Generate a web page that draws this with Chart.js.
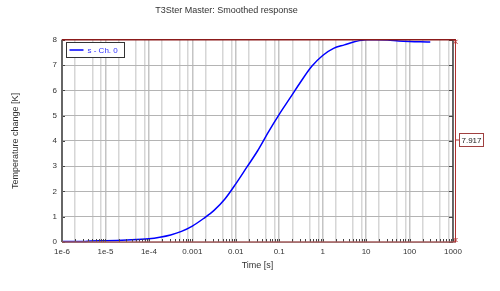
<!DOCTYPE html>
<html><head><meta charset="utf-8">
<script src="https://cdn.jsdelivr.net/npm/chart.js@4/dist/chart.umd.min.js"></script>
<style>html,body{margin:0;padding:0;background:#fff}#w{width:500px;height:291px}</style>
</head><body><div id="w"><canvas id="c"></canvas></div>
<script>
const TIMES = [1e-6, 3.16e-6, 4.5e-6, 1e-5, 3.16e-5, 1e-4, 1.78e-4, 3.16e-4, 5.62e-4, 1e-3, 1.78e-3, 3.16e-3, 5.62e-3, 1e-2, 1.78e-2, 3.16e-2, 5.62e-2, 0.1, 0.178, 0.316, 0.562, 1, 1.78, 3.16, 5.62, 10, 17.8, 31.6, 56.2, 100, 178, 300];
const TEMPS = [0.02, 0.02, 0.04, 0.05, 0.08, 0.13, 0.19, 0.28, 0.42, 0.63, 0.92, 1.25, 1.7, 2.3, 2.95, 3.6, 4.35, 5.05, 5.7, 6.35, 6.95, 7.38, 7.66, 7.8, 7.93, 8.0, 8.0, 7.99, 7.95, 7.93, 7.92, 7.917];
const X_DECADES = [1e-6, 1e-5, 1e-4, 1e-3, 1e-2, 1e-1, 1, 10, 100, 1000];
const X_LABELS = ["1e-6", "1e-5", "1e-4", "0.001", "0.01", "0.1", "1", "10", "100", "1000"];
const X_GRID_MULTIPLIERS = [1, 2, 5, 8];
const Y_TICKS = [0, 1, 2, 3, 4, 5, 6, 7, 8];
const SERIES_LABEL = "s - Ch. 0";
const CURSOR_VALUE = "7.917";

const FONT = "Arial, 'Liberation Sans', sans-serif";

function mantissa(v) {
  const k = Math.floor(Math.log10(v) + 1e-9);
  return Math.round(v / Math.pow(10, k));
}

const decor = {
  id: 'decor',
  afterDatasetsDraw(chart) {
    const ctx = chart.ctx, a = chart.chartArea, x = chart.scales.x, y = chart.scales.y;
    ctx.save();
    ctx.strokeStyle = '#444'; ctx.lineWidth = 1;
    x.ticks.forEach(t => {
      const px = Math.round(x.getPixelForValue(t.value)) + 0.5;
      ctx.beginPath(); ctx.moveTo(px, a.bottom); ctx.lineTo(px, a.bottom - 3); ctx.stroke();
    });
    Y_TICKS.forEach(v => {
      const py = Math.round(y.getPixelForValue(v)) + 0.5;
      ctx.beginPath(); ctx.moveTo(a.right, py); ctx.lineTo(a.right - 4, py); ctx.stroke();
      ctx.beginPath(); ctx.moveTo(a.left, py); ctx.lineTo(a.left + 3, py); ctx.stroke();
    });
    ctx.strokeStyle = '#666'; ctx.lineWidth = 2;
    ctx.beginPath(); ctx.moveTo(a.left, a.top); ctx.lineTo(a.left, a.bottom); ctx.stroke();
    ctx.strokeStyle = '#444'; ctx.lineWidth = 1.5;
    ctx.beginPath(); ctx.moveTo(a.right, a.top); ctx.lineTo(a.right, a.bottom); ctx.stroke();
    ctx.strokeStyle = '#8b1a1a'; ctx.lineWidth = 1.5;
    const yt = y.getPixelForValue(8), yb = y.getPixelForValue(0);
    ctx.beginPath(); ctx.moveTo(a.left, yt); ctx.lineTo(a.right + 3, yt); ctx.stroke();
    ctx.strokeStyle = '#a05a5a'; ctx.lineWidth = 1.5;
    ctx.beginPath(); ctx.moveTo(a.left, yb); ctx.lineTo(a.right + 3, yb); ctx.stroke();
    ctx.strokeStyle = '#b03030'; ctx.lineWidth = 1;
    const cx = a.right + 2.5;
    ctx.beginPath(); ctx.moveTo(cx, yt); ctx.lineTo(cx, yb); ctx.stroke();
    [yt + 2, yb - 2].forEach(py => {
      ctx.beginPath(); ctx.moveTo(cx - 2, py - 2); ctx.lineTo(cx + 2, py + 2);
      ctx.moveTo(cx + 2, py - 2); ctx.lineTo(cx - 2, py + 2); ctx.stroke();
    });
    const bx = 459.5, by = 133.5, bw = 24, bh = 13;
    ctx.beginPath(); ctx.moveTo(cx, by + bh / 2); ctx.lineTo(bx, by + bh / 2); ctx.stroke();
    ctx.fillStyle = '#fff'; ctx.fillRect(bx, by, bw, bh);
    ctx.strokeStyle = '#a04040'; ctx.lineWidth = 1; ctx.strokeRect(bx, by, bw, bh);
    ctx.fillStyle = '#222'; ctx.font = '8px ' + FONT; ctx.textAlign = 'center'; ctx.textBaseline = 'middle';
    ctx.fillText(CURSOR_VALUE, bx + bw / 2, by + bh / 2 + 0.5);
    const lx = 66.5, ly = 42.5, lw = 58, lh = 15;
    ctx.fillStyle = '#fff'; ctx.fillRect(lx, ly, lw, lh);
    ctx.strokeStyle = '#333'; ctx.lineWidth = 1; ctx.strokeRect(lx, ly, lw, lh);
    ctx.strokeStyle = '#0000ff'; ctx.lineWidth = 1.5;
    ctx.beginPath(); ctx.moveTo(lx + 3, ly + lh / 2); ctx.lineTo(lx + 17, ly + lh / 2); ctx.stroke();
    ctx.fillStyle = '#3030ff'; ctx.textAlign = 'left';
    ctx.fillText(SERIES_LABEL, lx + 21, ly + lh / 2 + 0.5);
    ctx.restore();
  }
};

new Chart(document.getElementById('c'), {
  type: 'line',
  data: {
    datasets: [{
      label: SERIES_LABEL,
      data: TIMES.map((t, i) => ({ x: t, y: TEMPS[i] })),
      borderColor: '#0000ff', borderWidth: 1.5, pointRadius: 0,
      cubicInterpolationMode: 'monotone', fill: false, clip: 2
    }]
  },
  options: {
    responsive: true, maintainAspectRatio: false, animation: false,
    layout: { padding: { left: 0, right: 47, top: 0, bottom: 20 } },
    plugins: {
      legend: { display: false }, tooltip: { enabled: false },
      title: {
        display: true, text: 'T3Ster Master: Smoothed response', color: '#333',
        font: { family: FONT, size: 9, weight: 'normal' }, padding: { top: 5, bottom: 24 }
      }
    },
    scales: {
      x: {
        type: 'logarithmic', min: 1e-6, max: 1000,
        afterBuildTicks(s) {
          const t = [];
          for (let k = -6; k <= 2; k++) for (let m = 1; m <= 9; m++) t.push({ value: m * Math.pow(10, k) });
          t.push({ value: 1000 });
          s.ticks = t;
        },
        afterFit(s) { s.height = 29; },
        ticks: {
          autoSkip: false, maxRotation: 0, minRotation: 0, padding: 5, color: '#333',
          font: { family: FONT, size: 8 },
          callback(v) {
            const i = X_DECADES.findIndex(d => Math.abs(Math.log10(v) - Math.log10(d)) < 1e-6);
            return i >= 0 ? X_LABELS[i] : '';
          }
        },
        grid: {
          drawTicks: false, lineWidth: 1.5,
          color(c) {
            const v = c.tick && c.tick.value;
            if (!v) return 'rgba(0,0,0,0)';
            const m = mantissa(v);
            if (!X_GRID_MULTIPLIERS.includes(m)) return 'rgba(0,0,0,0)';
            return m === 1 ? '#c4c4c4' : '#d6d6d6';
          }
        },
        border: { display: false },
        title: { display: true, text: 'Time [s]', color: '#333', font: { family: FONT, size: 9 }, padding: { top: 2, bottom: 0 } }
      },
      y: {
        min: 0, max: 8,
        afterBuildTicks(s) { s.ticks = Y_TICKS.map(v => ({ value: v })); },
        afterFit(s) { s.width = 62; },
        ticks: { color: '#333', font: { family: FONT, size: 8 }, padding: 5 },
        grid: { color: '#b4b4b4', lineWidth: 1, drawTicks: false },
        border: { display: false },
        title: { display: true, text: 'Temperature change [K]', color: '#333', font: { family: FONT, size: 9 }, padding: { top: 10, bottom: 10 } }
      }
    }
  },
  plugins: [decor]
});
</script></body></html>
